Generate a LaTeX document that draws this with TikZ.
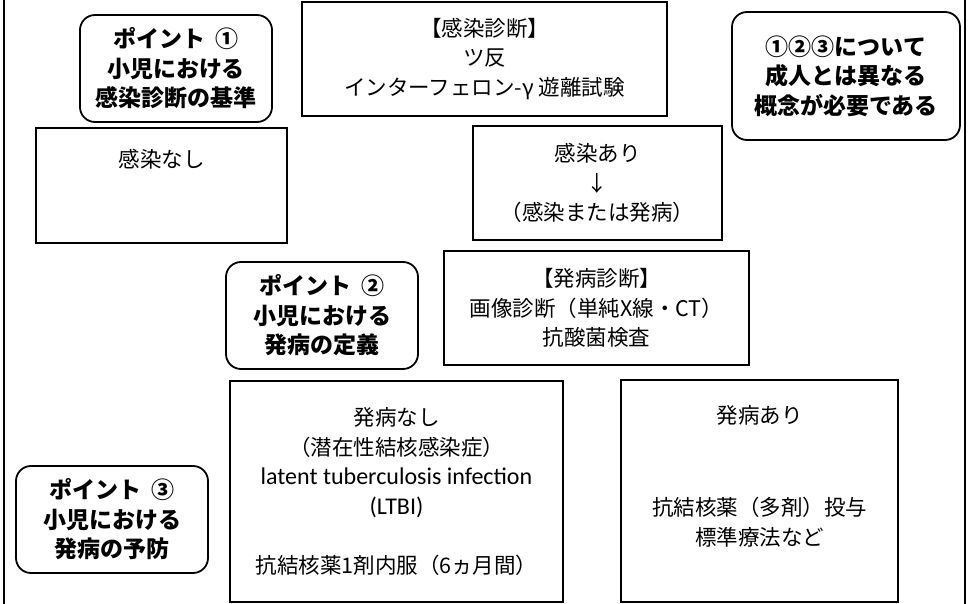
\documentclass[tikz,border=0pt]{standalone}
\usepackage{fontspec}
\setmainfont{Noto Sans CJK JP}
\newfontfamily\latfont{Carlito}
\begin{document}
\begin{tikzpicture}[x=1pt,y=-1pt,
  every node/.style={inner sep=0pt,outer sep=0pt},
  txt/.style={font=\fontsize{21.5}{29.5}\selectfont,align=center},
  sqbox/.style={draw,line width=1.8pt,rectangle},
  pointbox/.style={draw,line width=1.8pt,rectangle,rounded corners=15pt,
    font=\fontsize{23}{29.5}\selectfont\bfseries,align=center},
  frameline/.style={line width=1.5pt}]
\useasboundingbox (0,0) rectangle (970,604);
% frame
\coordinate (fl1) at (4,0); \coordinate (fl2) at (4,604);
\coordinate (fr1) at (965,0); \coordinate (fr2) at (965,604);
\draw[frameline] (fl1) -- (fl2);
\draw[frameline] (fr1) -- (fr2);
% point boxes
\node[pointbox,minimum width=192pt,minimum height=107pt] (p1) at (176,68.5)
  {ポイント\ \ ①\\小児における\\感染診断の基準};
\node[pointbox,minimum width=192pt,minimum height=107pt] (p2) at (322,315.5)
  {ポイント\ \ ②\\小児における\\発病の定義};
\node[pointbox,minimum width=192pt,minimum height=107pt] (p3) at (112,519.5)
  {ポイント\ \ ③\\小児における\\発病の予防};
\node[pointbox,minimum width=228pt,minimum height=128pt] (note) at (846,76)
  {①②③について\\成人とは異なる\\概念が必要である};
% diagnosis boxes
\node[sqbox,txt,minimum width=365pt,minimum height=114pt] (kdiag) at (484.5,59)
  {【感染診断】\\ツ反\\インターフェロン-γ 遊離試験};
\node[sqbox,minimum width=251pt,minimum height=115pt] (knashi) at (161.5,185.5) {};
\node[txt,anchor=base] (knashitxt) at (161.5,168) {感染なし};
\node[sqbox,txt,minimum width=249pt,minimum height=114pt] (kari) at (597.5,183)
  {感染あり\\↓\\（感染または発病）};
\node[sqbox,txt,minimum width=305pt,minimum height=114pt] (hdiag) at (596.5,308)
  {【発病診断】\\画像診断（単純X線・CT）\\抗酸菌検査};
\node[sqbox,txt,minimum width=333pt,minimum height=221pt] (hnashi) at (396.5,491.5)
  {発病なし\\（潜在性結核感染症）\\{\latfont\fontsize{24}{29.5}\selectfont latent tuberculosis infection}\\{\latfont\fontsize{24}{29.5}\selectfont (LTBI)}\\[29.5pt]抗結核薬1剤内服（6ヵ月間）};
\node[sqbox,minimum width=277pt,minimum height=222pt] (hari) at (759.5,491) {};
\node[txt,anchor=base] (haritxt1) at (759.5,423) {発病あり};
\node[txt,anchor=base] (haritxt2) at (759.5,545) {抗結核薬（多剤）投与\\標準療法など};
\end{tikzpicture}
\end{document}
